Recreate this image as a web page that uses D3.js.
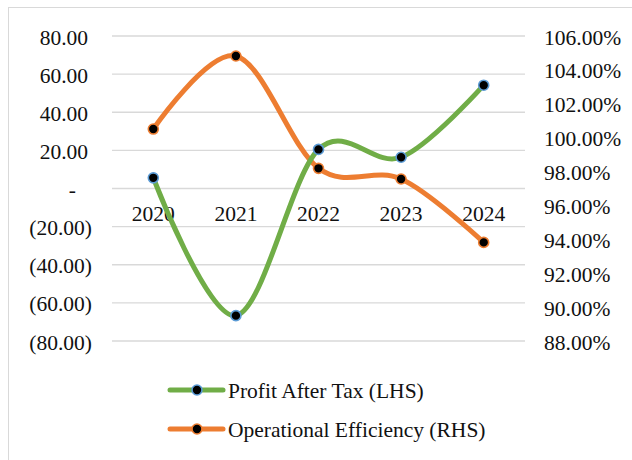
<!DOCTYPE html>
<html lang="en">
<head>
  <meta charset="UTF-8">
  <script src="https://cdn.jsdelivr.net/npm/d3@7"></script>
  <title>Profit After Tax vs Operational Efficiency</title>
  <style>
    body { margin: 0; background: #fff; }
  </style>
</head>
<body>
  <script>
      // chart data
      var years = ["2020", "2021", "2022", "2023", "2024"];
      var profitAfterTax = [5.6, -66.7, 20.5, 16.4, 54.2];
      var opEfficiency = [100.51, 104.82, 98.19, 97.56, 93.82];
      var leftTicks = [80, 60, 40, 20, 0, -20, -40, -60, -80];
      var rightTicks = [106, 104, 102, 100, 98, 96, 94, 92, 90, 88];
      var seriesNames = ["Profit After Tax (LHS)", "Operational Efficiency (RHS)"];

      var width = 632, height = 460;
      var fontSize = 21.5;
      var serif = "'Liberation Serif', 'Times New Roman', 'DejaVu Serif', serif";

      var svg = d3.select("body")
        .append("svg")
        .attr("width", width)
        .attr("height", height)
        .attr("font-family", serif)
        .attr("fill", "#111");

      // chart border (right / bottom sides fall off the picture)
      svg.append("rect")
        .attr("x", 8.5).attr("y", 7.5)
        .attr("width", 700).attr("height", 600)
        .attr("fill", "none")
        .attr("stroke", "#d9d9d9")
        .attr("stroke-width", 1);

      var x = d3.scaleBand().domain(years).range([112, 525]);
      var yLeft = d3.scaleLinear().domain([-80, 80]).range([341, 36]);
      var yRight = d3.scaleLinear().domain([88, 106]).range([341, 36]);

      // gridlines
      svg.append("g").selectAll("line").data(leftTicks).enter()
        .append("line")
        .attr("x1", 112).attr("x2", 525)
        .attr("y1", function(d){ return yLeft(d); })
        .attr("y2", function(d){ return yLeft(d); })
        .attr("stroke", "#d9d9d9")
        .attr("stroke-width", 1.3);

      // left axis labels, accounting style
      svg.append("g").selectAll("text").data(leftTicks).enter()
        .append("text")
        .attr("text-anchor", "end")
        .attr("font-size", fontSize)
        .attr("x", function(d){ return d < 0 ? 92 : (d == 0 ? 76 : 88); })
        .attr("y", function(d){ return yLeft(d) + 8.5; })
        .text(function(d){
          if (d == 0) return "-";
          var s = d3.format(".2f")(Math.abs(d));
          return d < 0 ? "(" + s + ")" : s;
        });

      // right axis labels
      svg.append("g").selectAll("text").data(rightTicks).enter()
        .append("text")
        .attr("font-size", fontSize)
        .attr("x", 544)
        .attr("y", function(d){ return yRight(d) + 8.5; })
        .text(function(d){ return d3.format(".2f")(d) + "%"; });

      // category labels sit next to the zero line
      svg.append("g").selectAll("text").data(years).enter()
        .append("text")
        .attr("text-anchor", "middle")
        .attr("font-size", fontSize)
        .attr("x", function(d){ return x(d) + x.bandwidth() / 2; })
        .attr("y", yLeft(0) + 32)
        .text(function(d){ return d; });

      var cx = function(i){ return x(years[i]) + x.bandwidth() / 2; };
      var curve = d3.curveCardinal.tension(0);

      var series = [
        { values: profitAfterTax, y: yLeft, color: "#70ad47", ring: "#5b9bd5" },
        { values: opEfficiency, y: yRight, color: "#ed7d31", ring: "#ed7d31" }
      ];

      // draw the orange one below the green, like the reference
      [series[1], series[0]].forEach(function(s){
        var line = d3.line()
          .x(function(d, i){ return cx(i); })
          .y(function(d){ return s.y(d); })
          .curve(curve);

        svg.append("path")
          .attr("d", line(s.values))
          .attr("fill", "none")
          .attr("stroke", s.color)
          .attr("stroke-width", 5)
          .attr("stroke-linecap", "round");
      });

      series.forEach(function(s){
        svg.append("g").selectAll("circle").data(s.values).enter()
          .append("circle")
          .attr("cx", function(d, i){ return cx(i); })
          .attr("cy", function(d){ return s.y(d); })
          .attr("r", 5)
          .attr("fill", "#000")
          .attr("stroke", s.ring)
          .attr("stroke-width", 1.6);
      });

      // legend
      var legend = svg.append("g").selectAll("g").data(series).enter()
        .append("g")
        .attr("transform", function(d, i){ return "translate(0," + (390 + i * 39) + ")"; });

      legend.append("line")
        .attr("x1", 170).attr("x2", 223)
        .attr("stroke", function(d){ return d.color; })
        .attr("stroke-width", 5)
        .attr("stroke-linecap", "round");

      legend.append("circle")
        .attr("cx", 197).attr("r", 5)
        .attr("fill", "#000")
        .attr("stroke", function(d){ return d.ring; })
        .attr("stroke-width", 1.6);

      legend.append("text")
        .attr("x", 228).attr("y", 8)
        .attr("font-size", fontSize)
        .text(function(d, i){ return seriesNames[i]; });
  </script>
</body>
</html>
